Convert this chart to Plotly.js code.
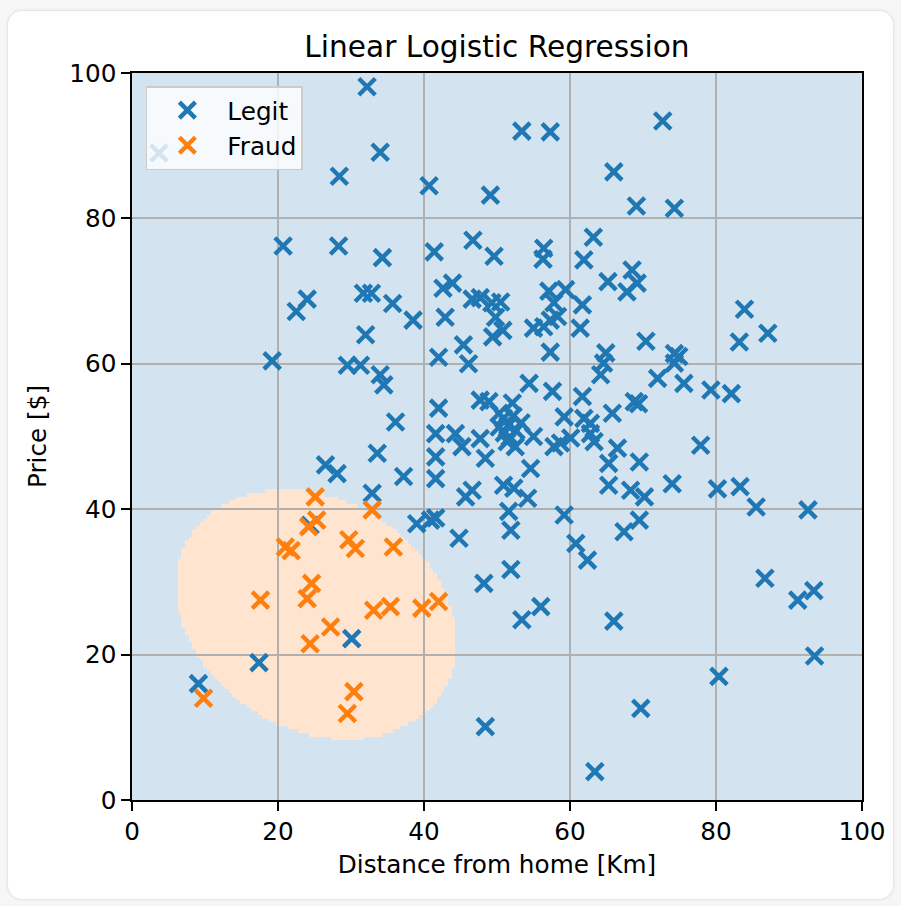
<!DOCTYPE html>
<html>
<head>
<meta charset="utf-8">
<script src="https://cdn.plot.ly/plotly-3.0.1.min.js"></script>
<style>
  html, body { margin: 0; padding: 0; background: #f6f6f6; }
  #card {
    position: absolute; left: 8px; top: 11px; width: 885px; height: 888px;
    background: #ffffff; border-radius: 14px;
    box-shadow: 0 0 3px rgba(0, 0, 0, 0.18);
  }
  #chart { position: absolute; left: 0; top: 0; width: 901px; height: 906px; }
</style>
</head>
<body>
<div id="card"></div>
<div id="chart"></div>
<script>
// Legitimate transactions: distance from home [Km] and price [$]
const legitDistance = [
  32.2, 3.7, 34.0, 28.4, 40.7, 49.1, 53.4, 57.3, 72.7, 66.0, 69.1, 74.3,
  20.7, 28.3, 34.3, 41.4, 46.7, 49.6, 56.4, 56.3, 63.2, 61.9,
  24.0, 22.5, 31.7, 32.8, 35.7, 38.5, 42.6, 43.9, 42.9, 46.6, 47.7, 49.3, 50.5, 49.8,
  57.1, 59.4, 57.8, 61.7, 58.3, 57.3, 56.4, 55.0, 61.4, 65.2, 68.5, 69.2, 67.8, 83.9,
  19.2, 32.0, 29.5, 31.3, 34.0, 34.5, 49.4, 50.8, 45.4, 42.0, 46.1, 57.3, 70.4,
  64.9, 64.6, 64.2, 74.3, 74.9, 74.3, 83.2, 87.1, 72.0, 75.6,
  54.4, 57.6, 61.7, 79.3, 82.1, 47.7, 48.9, 52.1, 42.0, 36.1, 50.3, 59.2, 61.9,
  62.8, 65.8, 68.8, 69.4, 41.6, 44.3, 62.8,
  50.9, 51.5, 52.2, 51.0, 52.6, 51.8, 50.3, 53.3,
  45.2, 41.6, 47.7, 48.4, 52.5, 51.4, 55.0, 58.7, 60.1, 63.3, 66.5, 57.8, 65.3,
  69.5, 77.9, 54.6, 33.6, 26.5, 28.1,
  41.6, 37.2, 32.9, 46.6, 45.7, 50.9, 52.3, 54.2, 65.3, 68.3, 70.2, 74.0, 80.2,
  83.3, 85.5, 92.6,
  51.6, 51.9, 59.2, 69.5, 67.4, 60.8, 62.4, 39.0, 40.9, 41.6, 44.8, 24.4, 51.9,
  48.2, 86.7,
  53.4, 56.0, 66.0, 63.4, 69.7, 80.4, 91.2, 93.4, 93.5, 30.1, 17.4, 9.1, 48.4
];
const legitPrice = [
  98.1, 89.0, 89.1, 85.8, 84.5, 83.2, 92.0, 91.9, 93.4, 86.4, 81.7, 81.4,
  76.2, 76.2, 74.6, 75.4, 77.0, 74.8, 75.9, 74.4, 77.4, 74.3,
  68.9, 67.2, 69.7, 69.7, 68.3, 66.0, 70.4, 71.1, 66.4, 68.9, 69.1, 68.4, 68.5, 66.4,
  70.0, 70.2, 68.4, 68.1, 66.5, 66.0, 65.1, 64.9, 64.9, 71.3, 72.9, 71.1, 69.9, 67.5,
  60.4, 64.0, 59.8, 59.8, 58.5, 57.1, 63.7, 64.6, 62.6, 60.9, 60.0, 61.6, 63.1,
  61.5, 60.1, 58.5, 61.4, 61.0, 60.1, 63.0, 64.2, 58.0, 57.3,
  57.3, 56.2, 55.5, 56.4, 55.9, 55.0, 54.8, 54.6, 53.9, 52.0, 53.2, 52.7, 52.5,
  51.8, 53.2, 54.8, 54.5, 50.4, 50.4, 50.4,
  52.5, 51.5, 52.8, 50.5, 50.8, 49.9, 51.3, 51.9,
  48.6, 47.2, 49.7, 47.0, 48.6, 49.3, 50.0, 49.1, 49.8, 49.3, 48.4, 48.6, 46.3,
  46.5, 48.8, 45.6, 47.7, 46.1, 44.9,
  44.2, 44.5, 42.2, 42.6, 41.7, 43.3, 42.9, 41.5, 43.3, 42.6, 41.7, 43.5, 42.8,
  43.1, 40.3, 39.9,
  39.7, 37.1, 39.2, 38.5, 36.9, 35.3, 33.0, 38.0, 38.5, 38.8, 36.0, 37.8, 31.7,
  29.8, 30.5,
  24.8, 26.6, 24.6, 3.9, 12.6, 17.0, 27.5, 28.8, 19.8, 22.2, 18.9, 16.0, 10.1
];

// Fraudulent transactions
const fraudDistance = [
  25.1, 32.9, 25.3, 24.2, 21.0, 21.8, 29.7, 30.6, 35.8, 17.6, 24.6,
  24.0, 24.4, 27.2, 33.1, 35.4, 39.7, 42.0, 30.4, 29.5, 9.8
];
const fraudPrice = [
  41.7, 39.9, 38.5, 37.6, 34.8, 34.3, 35.8, 34.6, 34.8, 27.5, 29.8,
  27.7, 21.5, 23.8, 26.1, 26.6, 26.4, 27.3, 14.9, 11.9, 14.0
];

// Fitted decision function (quadratic in distance and price):
// fraud where a*dx^2 + b*dx*dy + c*dy^2 < 1 around the fitted centre.
const modelCentre = [25.2, 25.55];
const modelQuad = [0.002856, 0.001432, 0.003579];

const axisRange = [0, 100];
const tickValues = [0, 20, 40, 60, 80, 100];

// Evaluate the classifier on a mesh covering the axes
const meshStep = 0.5;
const meshX = [], meshY = [];
for (let v = axisRange[0]; v <= axisRange[1] + 1e-9; v += meshStep) {
  meshX.push(+v.toFixed(2));
  meshY.push(+v.toFixed(2));
}
function predictFraud(d, p) {
  const dx = d - modelCentre[0], dy = p - modelCentre[1];
  const q = modelQuad[0] * dx * dx + modelQuad[1] * dx * dy + modelQuad[2] * dy * dy;
  return q < 1 ? 1 : 0;
}
const meshZ = meshY.map(p => meshX.map(d => predictFraud(d, p)));

const BLUE = '#1f77b4', ORANGE = '#ff7f0e';
const FONT = 'DejaVu Sans, Verdana, sans-serif';
const labelFont = { family: FONT, size: 24.7, color: '#000000' };

const regions = {
  type: 'heatmap', x: meshX, y: meshY, z: meshZ,
  xaxis: 'x', yaxis: 'y',
  zmin: 0, zmax: 1, zsmooth: false,
  colorscale: [[0, '#d3e4f0'], [0.5, '#d3e4f0'], [0.5, '#ffe5cf'], [1, '#ffe5cf']],
  showscale: false, hoverinfo: 'skip', showlegend: false
};

function crossMarker(color) {
  return { symbol: 'x-thin', size: 16.5, color: color, line: { color: color, width: 4.4 } };
}

const legit = {
  type: 'scatter', mode: 'markers', name: 'Legit', legendgroup: 'legit',
  x: legitDistance, y: legitPrice, xaxis: 'x2', yaxis: 'y2',
  marker: crossMarker(BLUE), hoverinfo: 'skip'
};
const fraud = {
  type: 'scatter', mode: 'markers', name: 'Fraud', legendgroup: 'fraud',
  x: fraudDistance, y: fraudPrice, xaxis: 'x2', yaxis: 'y2',
  marker: crossMarker(ORANGE), hoverinfo: 'skip'
};

const frameAxis = {
  domain: [0, 1], range: axisRange, tickvals: tickValues, ticktext: tickValues.map(String),
  showline: true, mirror: true, linecolor: '#000000', linewidth: 2,
  ticks: 'outside', ticklen: 8.6, tickwidth: 2, tickcolor: '#000000',
  showgrid: true, gridcolor: '#b0b0b0', gridwidth: 2, zeroline: false,
  tickfont: labelFont, fixedrange: true
};

const layout = {
  width: 901, height: 906,
  paper_bgcolor: 'rgba(0,0,0,0)', plot_bgcolor: 'rgba(0,0,0,0)',
  margin: { l: 132, r: 39, t: 73, b: 106, pad: 0 },
  font: labelFont,
  title: {
    text: 'Linear Logistic Regression',
    font: { family: FONT, size: 29.6, color: '#000000' },
    x: 0.5, xref: 'paper', xanchor: 'center',
    y: 1 - 47 / 906, yref: 'container', yanchor: 'middle'
  },
  xaxis: { domain: [0, 1], range: axisRange, visible: false, fixedrange: true },
  yaxis: { domain: [0, 1], range: axisRange, visible: false, fixedrange: true },
  xaxis2: Object.assign({}, frameAxis, {
    anchor: 'y2',
    title: { text: 'Distance from home [Km]', font: labelFont, standoff: 10 }
  }),
  yaxis2: Object.assign({}, frameAxis, {
    anchor: 'x2',
    title: { text: 'Price [$]', font: labelFont, standoff: 16 }
  }),
  showlegend: true,
  legend: {
    x: 0.019, y: 0.982, xanchor: 'left', yanchor: 'top', xref: 'paper', yref: 'paper',
    bgcolor: 'rgba(255,255,255,0.8)', bordercolor: '#cccccc', borderwidth: 1.5,
    font: labelFont, itemwidth: 70, traceorder: 'normal', tracegroupgap: 6
  }
};

Plotly.newPlot('chart', [regions, legit, fraud], layout, { staticPlot: true, displayModeBar: false });
</script>
</body>
</html>
